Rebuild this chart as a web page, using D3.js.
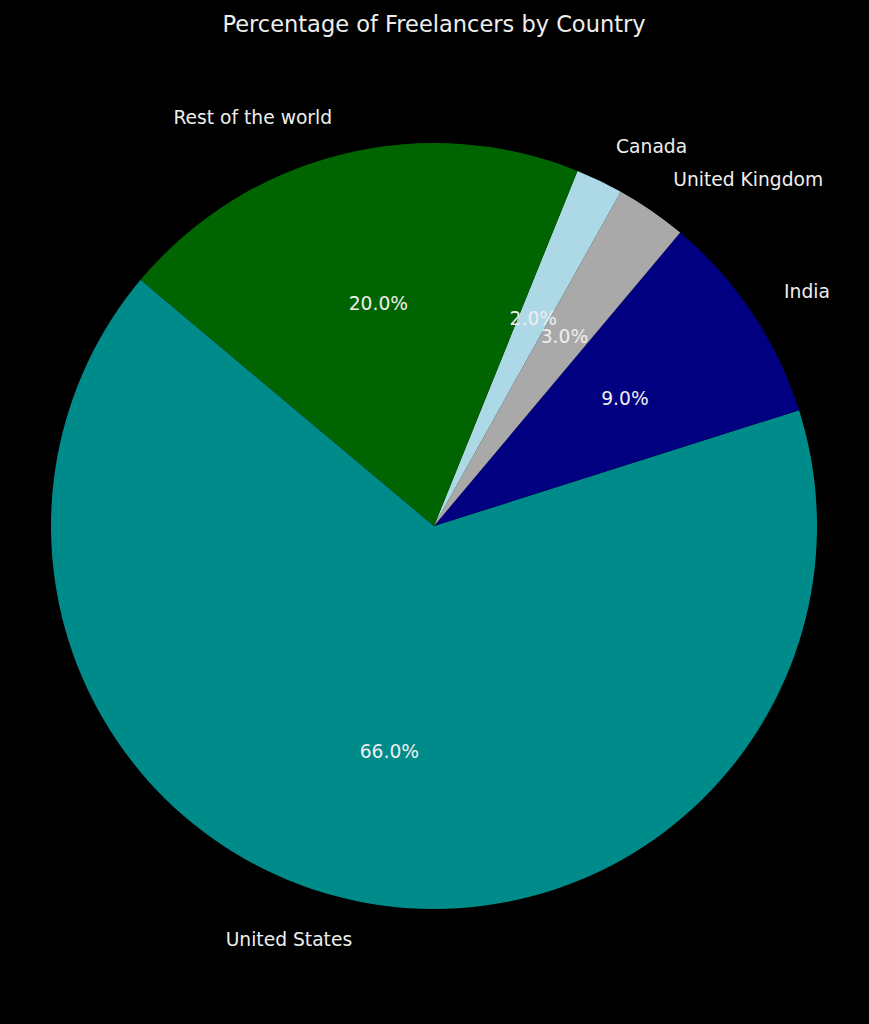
<!DOCTYPE html>
<html>
<head>
<meta charset="utf-8">
<script src="https://cdn.jsdelivr.net/npm/d3@7"></script>
<style>
  html, body { margin: 0; padding: 0; background: #000; }
  svg { display: block; }
</style>
</head>
<body>
<script>
// chart values
var countries = ["United States", "India", "United Kingdom", "Canada", "Rest of the world"];
var shares = [66, 9, 3, 2, 20];
var colors = ["#008b8b", "#000080", "#a9a9a9", "#add8e6", "#006400"];

var width = 869, height = 1024,
    cx = 434, cy = 526, radius = 383,
    startDeg = 140; // counterclockwise from +x axis, as matplotlib does

var svg = d3.select("body").append("svg")
    .attr("width", width)
    .attr("height", height);

svg.append("rect").attr("width", width).attr("height", height).attr("fill", "#000");

svg.append("text")
    .attr("x", cx)
    .attr("y", 24)
    .attr("text-anchor", "middle")
    .attr("dominant-baseline", "central")
    .attr("fill", "#eeeeee")
    .style("font-family", "DejaVu Sans")
    .style("font-size", "22.5px")
    .text("Percentage of Freelancers by Country");

/* d3 angles run clockwise from 12 o'clock, so go backwards to get counterclockwise slices */
var a0 = (90 - startDeg) * Math.PI / 180;
var pie = d3.pie().sort(null).value(function (d) { return d.v; })
    .startAngle(a0).endAngle(a0 - 2 * Math.PI);

var data = countries.map(function (c, i) { return { name: c, v: shares[i], color: colors[i] }; });
var arcs = pie(data);

var arc = d3.arc().innerRadius(0).outerRadius(radius);

var g = svg.append("g").attr("transform", "translate(" + cx + "," + cy + ")");

g.selectAll("path").data(arcs).enter().append("path")
    .attr("d", arc)
    .attr("fill", function (d) { return d.data.color; });

function mid(d) { return (d.startAngle + d.endAngle) / 2; }

var total = d3.sum(shares);

/* outer labels */
g.selectAll("text.label").data(arcs).enter().append("text")
    .attr("class", "label")
    .attr("x", function (d) { return 1.1 * radius * Math.sin(mid(d)); })
    .attr("y", function (d) { return -1.1 * radius * Math.cos(mid(d)); })
    .attr("text-anchor", function (d) { return Math.sin(mid(d)) > 0 ? "start" : "end"; })
    .attr("dominant-baseline", "central")
    .attr("fill", "#eeeeee")
    .style("font-family", "DejaVu Sans")
    .style("font-size", "18.7px")
    .text(function (d) { return d.data.name; });

/* percentages */
g.selectAll("text.pct").data(arcs).enter().append("text")
    .attr("class", "pct")
    .attr("x", function (d) { return 0.6 * radius * Math.sin(mid(d)); })
    .attr("y", function (d) { return -0.6 * radius * Math.cos(mid(d)); })
    .attr("text-anchor", "middle")
    .attr("dominant-baseline", "central")
    .attr("fill", "#eeeeee")
    .style("font-family", "DejaVu Sans")
    .style("font-size", "18.7px")
    .text(function (d) { return (100 * d.data.v / total).toFixed(1) + "%"; });
</script>
</body>
</html>
